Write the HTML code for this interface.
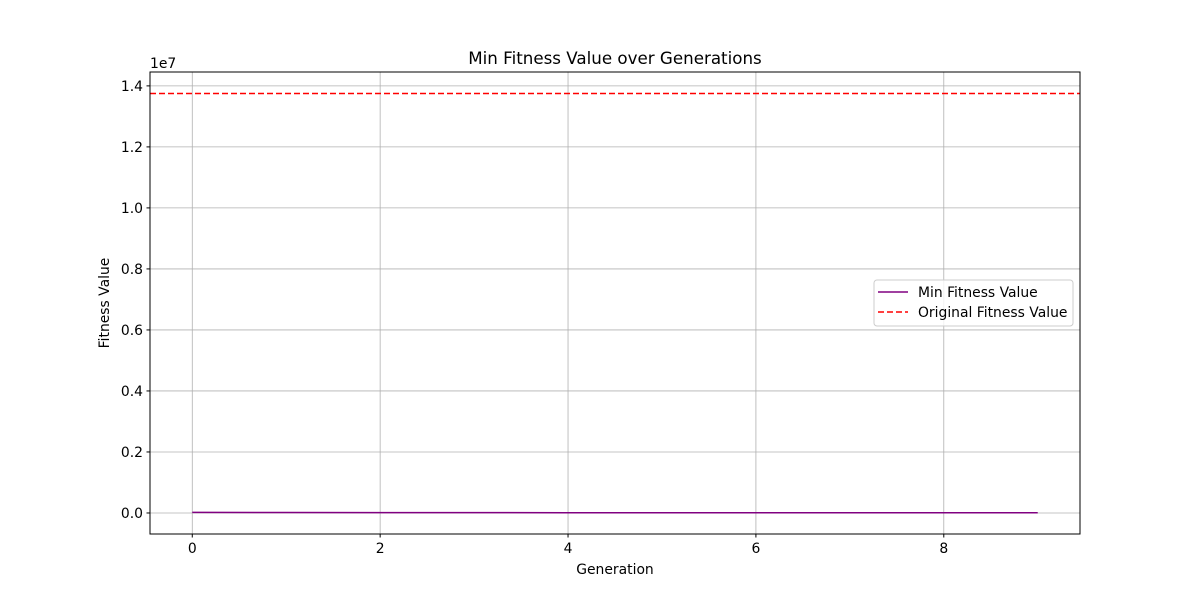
<!DOCTYPE html>
<html><head><meta charset="utf-8"><style>
body{margin:0;background:#fff;}
svg text{font-family:"DejaVu Sans","Liberation Sans",sans-serif;fill:#000;}
</style></head><body>
<svg id="chart" width="1200" height="600" xmlns="http://www.w3.org/2000/svg">
<rect width="1200" height="600" fill="#fff"/>
<g id="grid"></g>
<g id="series"></g>
<rect x="150" y="72" width="930" height="462" fill="none" stroke="#000" stroke-width="1"/>
<g id="axes"></g>
<text x="615" y="64" font-size="16.7" text-anchor="middle">Min Fitness Value over Generations</text>
<text x="615" y="574" font-size="13.9" text-anchor="middle">Generation</text>
<text x="109" y="303" font-size="13.9" text-anchor="middle" transform="rotate(-90 109 303)">Fitness Value</text>
<text x="150" y="68" font-size="13.9">1e7</text>
<g>
<rect x="874" y="280" width="199" height="46" rx="3" fill="#fff" fill-opacity="0.8" stroke="#ccc"/>
<line x1="878" y1="292" x2="908" y2="292" stroke="purple" stroke-width="1.5"/>
<text x="918" y="297" font-size="13.9">Min Fitness Value</text>
<line x1="878" y1="312" x2="908" y2="312" stroke="red" stroke-width="1.5" stroke-dasharray="6,3"/>
<text x="918" y="317" font-size="13.9">Original Fitness Value</text>
</g>
</svg>
<script>
const generations=[0,1,2,3,4,5,6,7,8,9];
const minFitness=[20000,15000,12000,10000,9000,8500,8000,7800,7600,7500];
const originalFitness=13750000;
const xTicks=[0,2,4,6,8];
const yTicks=[0,2e6,4e6,6e6,8e6,10e6,12e6,14e6];
const yTickLabels=["0.0","0.2","0.4","0.6","0.8","1.0","1.2","1.4"];
const L=150,R=1080,T=72,B=534;
const xMin=-0.45,xMax=9.45,yMin=-0.0689e7,yMax=1.4455e7;
const sx=v=>L+(v-xMin)/(xMax-xMin)*(R-L);
const sy=v=>B-(v-yMin)/(yMax-yMin)*(B-T);
const NS="http://www.w3.org/2000/svg";
function mk(tag,attrs,parent){const e=document.createElementNS(NS,tag);for(const k in attrs)e.setAttribute(k,attrs[k]);parent.appendChild(e);return e;}
const grid=document.getElementById('grid'),axes=document.getElementById('axes'),series=document.getElementById('series');
xTicks.forEach(t=>{const x=sx(t);
 const g=mk('line',{x1:x,x2:x,y1:T,y2:B,stroke:'#b0b0b0','stroke-width':0.8},grid);
 
 
 const tk=mk('line',{x1:x,x2:x,y1:B,y2:B+3.5,stroke:'#000'},axes);
 
 
 const tx=mk('text',{x:x,y:B+19,'font-size':13.9,'text-anchor':'middle'},axes);tx.textContent=t;
 
 
});
yTicks.forEach((t,i)=>{const y=sy(t);
 const g=mk('line',{x1:L,x2:R,y1:y,y2:y,stroke:'#b0b0b0','stroke-width':0.8},grid);
 
 
 const tk=mk('line',{x1:L-3.5,x2:L,y1:y,y2:y,stroke:'#000'},axes);
 
 
 const tx=mk('text',{x:L-7,y:y+5,'font-size':13.9,'text-anchor':'end'},axes);tx.textContent=yTickLabels[i];
 
 
});
const pts=generations.map((g,i)=>sx(g)+','+sy(minFitness[i])).join(' ');
const pl=mk('polyline',{points:pts,fill:'none',stroke:'purple','stroke-width':1.5},series);


const oy=sy(originalFitness);
const ol=mk('line',{x1:L,x2:R,y1:oy,y2:oy,stroke:'red','stroke-width':1.5,'stroke-dasharray':'6,3'},series);


</script>
</body></html>
